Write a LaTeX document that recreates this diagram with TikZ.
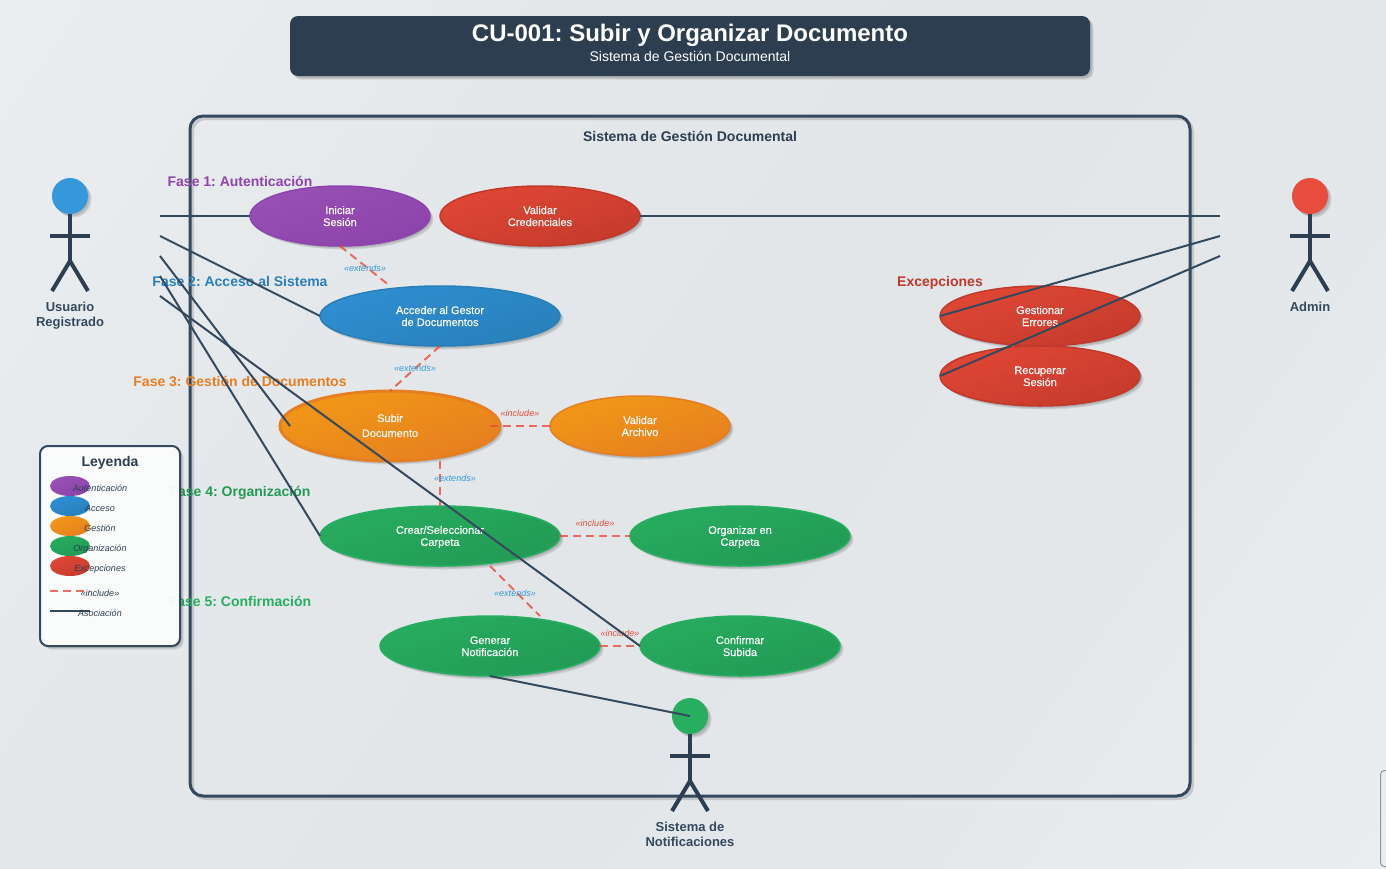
\documentclass[tikz,border=0pt]{standalone}
\usepackage{fontspec}
\setmainfont{Liberation Sans}
\newfontfamily\ucfont[FakeBold=0.2]{Liberation Sans}
\usetikzlibrary{shapes.geometric,shadows,calc}
\frenchspacing
\definecolor{ink}{HTML}{2C3E50}
\definecolor{slate}{HTML}{34495E}
\definecolor{dashred}{HTML}{E74C3C}
\definecolor{labblue}{HTML}{3498DB}
\definecolor{pA}{HTML}{9850B4}\definecolor{pB}{HTML}{8C43AB}\definecolor{pS}{HTML}{8E44AD}
\definecolor{bA}{HTML}{2F8ED2}\definecolor{bB}{HTML}{2980B9}\definecolor{bS}{HTML}{2980B9}
\definecolor{oA}{HTML}{F19816}\definecolor{oB}{HTML}{E67F20}\definecolor{oS}{HTML}{E67E22}
\definecolor{gA}{HTML}{27AC5F}\definecolor{gB}{HTML}{229A55}\definecolor{gS}{HTML}{27AE60}
\definecolor{rA}{HTML}{E04635}\definecolor{rB}{HTML}{C53B2C}\definecolor{rS}{HTML}{C0392B}
\definecolor{headB}{HTML}{3498DB}\definecolor{headR}{HTML}{E74C3C}\definecolor{headG}{HTML}{27AE60}
\definecolor{bg0}{RGB}{239,242,243}
\definecolor{bg1}{RGB}{234,237,239}
\definecolor{bg2}{RGB}{229,232,235}
\definecolor{bg3}{RGB}{226,230,233}
\definecolor{bg4}{RGB}{227,231,234}
\definecolor{bg5}{RGB}{235,238,240}
\definecolor{bg6}{RGB}{238,240,242}
\pgfdeclarehorizontalshading{pagebg}{100bp}{
  color(0bp)=(bg0);
  color(20bp)=(bg1);
  color(35bp)=(bg2);
  color(50bp)=(bg3);
  color(65bp)=(bg4);
  color(85bp)=(bg5);
  color(100bp)=(bg6)}
\newcommand{\twol}[2]{\rule{0pt}{10pt}#1\\#2\rule[-2pt]{0pt}{2pt}}
\newcommand{\twolw}[2]{\rule{0pt}{10pt}#1\\[3pt]#2\rule[-3pt]{0pt}{3pt}}
\newcommand{\twola}[2]{\rule{0pt}{10pt}#1\\#2\rule[-4pt]{0pt}{4pt}}
\tikzset{
  softshadow/.style={
    preaction={draw=none,fill=black,fill opacity=.07,transform canvas={shift={(1.5pt,-1.5pt)}}},
    preaction={draw=none,fill=black,fill opacity=.09,transform canvas={shift={(2.5pt,-2.5pt)}}},
    preaction={draw=none,fill=black,fill opacity=.09,transform canvas={shift={(3.5pt,-3.5pt)}}}},
  uc/.style={ellipse,inner sep=0pt,outer sep=0pt,line width=1.5pt,align=center,text=white,
    font=\ucfont\fontsize{11}{12}\selectfont,softshadow},
  ucpurple/.style={uc,draw=pS,left color=pA,right color=pB,shading angle=18},
  ucblue/.style={uc,draw=bS,left color=bA,right color=bB,shading angle=18},
  ucorange/.style={uc,draw=oS,left color=oA,right color=oB,shading angle=18},
  ucgreen/.style={uc,draw=gS,left color=gA,right color=gB,shading angle=18},
  ucred/.style={uc,draw=rS,left color=rA,right color=rB,shading angle=18},
  legdot/.style={ellipse,inner sep=0pt,outer sep=0pt,minimum width=40pt,minimum height=20pt},
  assoc/.style={draw=slate,line width=2pt},
  dashrel/.style={draw=dashred,line width=2pt,dash pattern=on 8pt off 5pt,draw opacity=.8},
  limb/.style={draw=ink,line width=4pt},
  head/.style={circle,inner sep=0pt,outer sep=0pt,minimum size=36pt,softshadow},
  phase/.style={font=\fontsize{14}{16}\selectfont\bfseries,inner sep=0pt,anchor=base},
  actorname/.style={font=\fontsize{13}{15}\selectfont\bfseries,text=slate,align=center,inner sep=0pt},
  extlab/.style={font=\fontsize{9}{11}\selectfont\itshape,text=labblue,inner sep=0pt,anchor=base},
  inclab/.style={font=\fontsize{9}{11}\selectfont\itshape,text=dashred,inner sep=0pt,anchor=base},
  legtext/.style={font=\fontsize{9}{11}\selectfont\itshape,text=ink,inner sep=0pt,anchor=base},
}
\begin{document}
\begin{tikzpicture}[x=1pt,y=-1pt]
\useasboundingbox (0,0) rectangle (1386,868);
\shade[shading=pagebg,shading angle=-35] (0,0) rectangle (1386,868);

% corner widget
\draw[draw=black!42,line width=1pt,rounded corners=4pt] (1387,770.5) -- (1380.5,770.5) -- (1380.5,866.5) -- (1387,866.5);

% title
\node[draw=none,fill=ink,rounded corners=8pt,minimum width=800pt,minimum height=60pt,inner sep=0pt,softshadow] (titlebar) at (690,46) {};
\node[font=\fontsize{24}{28}\selectfont\bfseries,text=white,inner sep=0pt,anchor=base] (titletext) at (690,41) {CU-001: Subir y Organizar Documento};
\node[font=\fontsize{14}{16}\selectfont,text=white,inner sep=0pt,anchor=base] (subtitle) at (690,61) {Sistema de Gestión Documental};

% system boundary
\draw[draw=black,draw opacity=.14,line width=3pt,rounded corners=13pt] (192.5,118.5) rectangle (1192.5,798.5);
\node[draw=slate,line width=3pt,rounded corners=13pt,minimum width=1000pt,minimum height=680pt,inner sep=0pt,outer sep=0pt] (system) at (690,456) {};
\node[font=\fontsize{14}{16}\selectfont\bfseries,text=ink,inner sep=0pt,anchor=base] (systemname) at (690,141) {Sistema de Gestión Documental};

% phases
\node[phase,text=pS] (f1) at (240,186) {Fase 1: Autenticación};
\node[phase,text=bS] (f2) at (240,286) {Fase 2: Acceso al Sistema};
\node[phase,text=oS] (f3) at (240,386) {Fase 3: Gestión de Documentos};
\node[phase,text=gB] (f4) at (240,496) {Fase 4: Organización};
\node[phase,text=gS] (f5) at (240,606) {Fase 5: Confirmación};
\node[phase,text=rS] (f6) at (940,286) {Excepciones};

% use cases
\node[ucpurple,minimum width=180pt,minimum height=60pt] (iniciar) at (340,216) {\twol{Iniciar}{Sesión}};
\node[ucred,minimum width=200pt,minimum height=60pt] (validar) at (540,216) {\twol{Validar}{Credenciales}};
\node[ucblue,minimum width=240pt,minimum height=60pt] (acceder) at (440,316) {\twol{Acceder al Gestor}{de Documentos}};
\node[ucorange,line width=3pt,minimum width=220pt,minimum height=70pt] (subir) at (390,426) {\twolw{Subir}{Documento}};
\node[ucorange,minimum width=180pt,minimum height=60pt] (archivo) at (640,426) {\twol{Validar}{Archivo}};
\node[ucgreen,minimum width=240pt,minimum height=60pt] (crear) at (440,536) {\twol{Crear/Seleccionar}{Carpeta}};
\node[ucgreen,minimum width=220pt,minimum height=60pt] (organizar) at (740,536) {\twol{Organizar en}{Carpeta}};
\node[ucgreen,minimum width=220pt,minimum height=60pt] (generar) at (490,646) {\twol{Generar}{Notificación}};
\node[ucgreen,minimum width=200pt,minimum height=60pt] (confirmar) at (740,646) {\twol{Confirmar}{Subida}};
\node[ucred,minimum width=200pt,minimum height=60pt] (gestionar) at (1040,316) {\twol{Gestionar}{Errores}};
\node[ucred,minimum width=200pt,minimum height=60pt] (recuperar) at (1040,376) {\twol{Recuperar}{Sesión}};

% actors
\node[head,fill=headB] (uhead) at (70,196) {};
\coordinate (uhip) at (70,261);
\coordinate (ularm) at (50,236); \coordinate (urarm) at (90,236);
\coordinate (ulleg) at (52,291); \coordinate (urleg) at (88,291);
\draw[limb] (uhead.south) -- (uhip);
\draw[limb] (ularm) -- (urarm);
\draw[limb] (ulleg) -- (uhip) -- (urleg);
\node[actorname] (uname) at (70,315.5) {\twola{Usuario}{Registrado}};

\node[head,fill=headR] (ahead) at (1310,196) {};
\coordinate (ahip) at (1310,261);
\coordinate (alarm) at (1290,236); \coordinate (ararm) at (1330,236);
\coordinate (alleg) at (1292,291); \coordinate (arleg) at (1328,291);
\draw[limb] (ahead.south) -- (ahip);
\draw[limb] (alarm) -- (ararm);
\draw[limb] (alleg) -- (ahip) -- (arleg);
\node[actorname,anchor=base] (aname) at (1310,311) {Admin};

\node[head,fill=headG] (shead) at (690,716) {};
\coordinate (ship) at (690,781);
\coordinate (slarm) at (670,756); \coordinate (srarm) at (710,756);
\coordinate (slleg) at (672,811); \coordinate (srleg) at (708,811);
\draw[limb] (shead.south) -- (ship);
\draw[limb] (slarm) -- (srarm);
\draw[limb] (slleg) -- (ship) -- (srleg);
\node[actorname] (sname) at (690,835.5) {\twola{Sistema de}{Notificaciones}};

% dashed relations
\coordinate (d1b) at (390,286);
\coordinate (d2b) at (390,391);
\coordinate (d3a) at (490,426);
\coordinate (d4a) at (440,461);
\coordinate (d5a) at (490,566); \coordinate (d5b) at (540,616);
\draw[dashrel] (iniciar.south) -- (d1b);
\draw[dashrel] (acceder.south) -- (d2b);
\draw[dashrel] (d3a) -- (archivo.west);
\draw[dashrel] (d4a) -- (crear.north);
\draw[dashrel] (crear.east) -- (organizar.west);
\draw[dashrel] (d5a) -- (d5b);
\draw[dashrel] (generar.east) -- (confirmar.west);

\node[extlab] (e1) at (365,271) {«extends»};
\node[extlab] (e2) at (415,371) {«extends»};
\node[extlab] (e3) at (455,481) {«extends»};
\node[extlab] (e4) at (515,596) {«extends»};
\node[inclab] (i1) at (520,416) {«include»};
\node[inclab] (i2) at (595,526) {«include»};
\node[inclab] (i3) at (620,636) {«include»};

% associations
\coordinate (ua1) at (160,216); \coordinate (ua2) at (160,236); \coordinate (ua3) at (160,256);
\coordinate (ua4) at (160,276); \coordinate (ua5) at (160,296);
\coordinate (subirin) at (290,426);
\coordinate (aa1) at (1220,216); \coordinate (aa2) at (1220,236); \coordinate (aa3) at (1220,256);
\draw[assoc] (ua1) -- (iniciar.west);
\draw[assoc] (ua2) -- (acceder.west);
\draw[assoc] (ua3) -- (subirin);
\draw[assoc] (ua4) -- (crear.west);
\draw[assoc] (ua5) -- (confirmar.west);
\draw[assoc] (validar.east) -- (aa1);
\draw[assoc] (gestionar.west) -- (aa2);
\draw[assoc] (recuperar.west) -- (aa3);
\draw[assoc] (generar.south) -- (shead.center);

% legend
\node[draw=slate,line width=2pt,fill=white,fill opacity=.95,rounded corners=8pt,minimum width=140pt,minimum height=200pt,inner sep=0pt,outer sep=0pt,softshadow] (legend) at (110,546) {};
\node[font=\fontsize{14}{16}\selectfont\bfseries,text=ink,inner sep=0pt,anchor=base] (legtitle) at (110,466) {Leyenda};
\node[legdot,left color=pA,right color=pB,shading angle=18] (l1) at (70,486) {};
\node[legdot,left color=bA,right color=bB,shading angle=18] (l2) at (70,506) {};
\node[legdot,left color=oA,right color=oB,shading angle=18] (l3) at (70,526) {};
\node[legdot,left color=gA,right color=gB,shading angle=18] (l4) at (70,546) {};
\node[legdot,left color=rA,right color=rB,shading angle=18] (l5) at (70,566) {};
\node[legtext] (lt1) at (100,491) {Autenticación};
\node[legtext] (lt2) at (100,511) {Acceso};
\node[legtext] (lt3) at (100,531) {Gestión};
\node[legtext] (lt4) at (100,551) {Organización};
\node[legtext] (lt5) at (100,571) {Excepciones};
\coordinate (ld1) at (50,591); \coordinate (ld2) at (90,591);
\coordinate (ls1) at (50,611); \coordinate (ls2) at (90,611);
\draw[dashrel] (ld1) -- (ld2);
\draw[assoc] (ls1) -- (ls2);
\node[legtext] (lt6) at (100,596) {«include»};
\node[legtext] (lt7) at (100,616) {Asociación};
\end{tikzpicture}
\end{document}
